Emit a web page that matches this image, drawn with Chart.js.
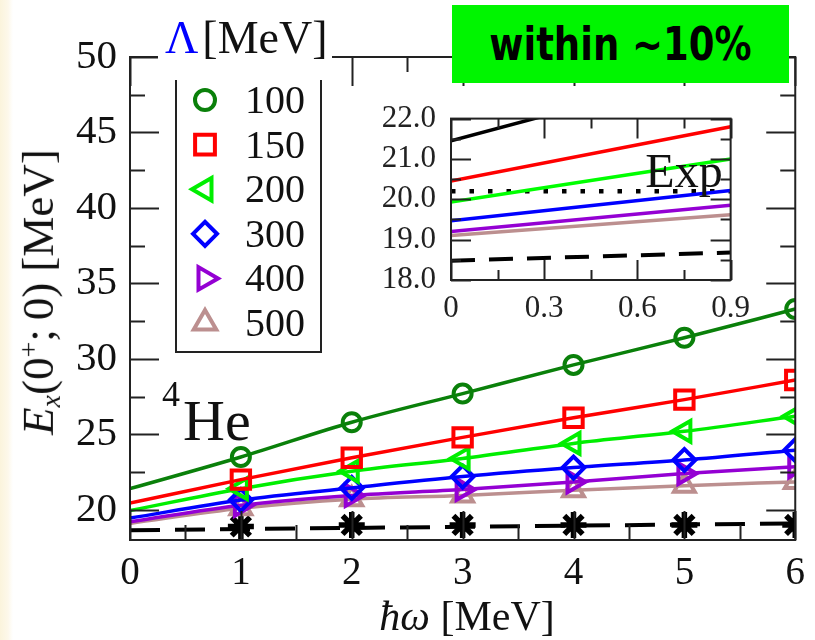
<!DOCTYPE html>
<html><head><meta charset="utf-8">
<script src="https://cdn.jsdelivr.net/npm/chart.js@4.4.1/dist/chart.umd.min.js"></script>
<style>
html,body{margin:0;padding:0;background:#fff;}
#wrap{position:relative;width:815px;height:640px;overflow:hidden;background:linear-gradient(to right,#fbf4dc 0px,#fdf8ea 8px,#ffffff 13px);}
canvas{position:absolute;}
.ov{position:absolute;font-family:'Liberation Serif','Times New Roman',serif;color:#111;white-space:nowrap;line-height:1;}
#ytitle{left:40px;top:292px;font-size:45px;transform:translate(-50%,-50%) rotate(-90deg);}
#xtitle{left:467px;top:616px;font-size:42px;transform:translate(-50%,-50%);}
#box{position:absolute;left:452px;top:5px;width:337px;height:78px;background:#00f500;display:flex;align-items:center;justify-content:center;font-family:'DejaVu Sans',sans-serif;font-size:37px;font-weight:bold;color:#000;}
#box span{display:inline-block;transform:scale(1,1.25);}
</style></head><body>
<div id="wrap">
<canvas id="main" width="815" height="640" style="left:0;top:0"></canvas>
<canvas id="inset" width="400" height="245" style="left:360px;top:85px"></canvas>
<div class="ov" id="ytitle"><i>E</i><sub style="font-size:0.62em;vertical-align:-0.25em"><i>x</i></sub>(0<sup style="font-size:0.62em;vertical-align:0.55em">+</sup>;&#8201;0) [MeV]</div>
<div class="ov" id="xtitle"><i>ħω</i> [MeV]</div>
<div class="ov" style="left:162px;top:376px;font-size:36px;">4</div>
<div class="ov" style="left:183px;top:392px;font-size:58px;">He</div>
<div id="box"><span>within ~10%</span></div>
</div>
<script>
// ---- main panel data ----
const hw = [0, 1, 2, 3, 4, 5, 6];
const lambdas = ['100', '150', '200', '300', '400', '500'];
const e100 = [21.4, 23.5, 25.8, 27.7, 29.6, 31.4, 33.3];
const e150 = [20.45, 22.0, 23.45, 24.8, 26.1, 27.3, 28.6];
const e200 = [19.95, 21.4, 22.55, 23.4, 24.4, 25.2, 26.2];
const e300 = [19.45, 20.65, 21.45, 22.2, 22.8, 23.3, 23.95];
const e400 = [19.2, 20.3, 20.95, 21.35, 21.85, 22.4, 22.85];
const e500 = [19.1, 20.1, 20.7, 20.95, 21.3, 21.6, 21.85];
const starX = [1, 2, 3, 4, 5, 6];
const starY = [18.9, 19.0, 19.0, 19.0, 19.0, 19.0];
const dashX = [0, 6];
const dashY = [18.65, 19.1];
const xTicks = [0, 1, 2, 3, 4, 5, 6];
const xMinor = [0.5, 1.5, 2.5, 3.5, 4.5, 5.5];
const yTicks = [20, 25, 30, 35, 40, 45, 50];
const yMinor = [22.5, 27.5, 32.5, 37.5, 42.5, 47.5];
// ---- inset data ----
const insetX = [0, 0.9];
const in100 = [21.45, 23.3];
const in150 = [20.45, 21.8];
const in200 = [19.93, 21.0];
const in300 = [19.47, 20.22];
const in400 = [19.2, 19.85];
const in500 = [19.1, 19.62];
const inExp = [20.2, 20.2];
const inDash = [18.48, 18.68];
const insetXTicks = [0, 0.3, 0.6, 0.9];
const insetXLabels = ['0', '0.3', '0.6', '0.9'];
const insetXMinor = [0.15, 0.45, 0.75];
const insetYTicks = [18, 19, 20, 21, 22];
const insetYLabels = ['18.0', '19.0', '20.0', '21.0', '22.0'];
const insetYMinor = [18.5, 19.5, 20.5, 21.5];

const SERIF = "'Liberation Serif','Times New Roman',serif";
const colors = ['#0a800a', '#ff0000', '#00ee00', '#0000ff', '#9400d3', '#bc8f8f'];
const insetColors = ['#000000', '#ff0000', '#00ff00', '#0000ff', '#9400d3', '#bc8f8f'];
const styles = ['circle', 'rect', 'triangle', 'rectRot', 'triangle', 'triangle'];
const rots = [0, 0, -90, 0, 90, 0];
const radii = [9, 13, 12, 11, 12, 12];
const mainSeries = [e100, e150, e200, e300, e400, e500];
const insetSeries = [in100, in150, in200, in300, in400, in500];

const toXY = (xs, ys) => xs.map((x, i) => ({x: x, y: ys[i]}));

const framePlugin = {
  id: 'frame',
  afterDatasetsDraw(chart, args, o) {
    const ctx = chart.ctx, a = chart.chartArea, xs = chart.scales.x, ys = chart.scales.y;
    ctx.save();
    ctx.strokeStyle = '#222';
    ctx.lineWidth = o.lw;
    ctx.beginPath();
    const vx = (vals, len) => vals.forEach(v => {
      const p = Math.round(xs.getPixelForValue(v)) + 0.5;
      ctx.moveTo(p, a.bottom); ctx.lineTo(p, a.bottom - len);
      ctx.moveTo(p, a.top); ctx.lineTo(p, a.top + len);
    });
    const hy = (vals, len) => vals.forEach(v => {
      const p = Math.round(ys.getPixelForValue(v)) + 0.5;
      ctx.moveTo(a.left, p); ctx.lineTo(a.left + len, p);
      ctx.moveTo(a.right, p); ctx.lineTo(a.right - len, p);
    });
    vx(o.xMajor, o.major); vx(o.xMinor, o.minor);
    hy(o.yMajor, o.major); hy(o.yMinor, o.minor);
    ctx.stroke();
    ctx.lineWidth = o.lw;
    ctx.strokeRect(a.left, a.top, a.right - a.left, a.bottom - a.top);
    ctx.restore();
  }
};

const legendPlugin = {
  id: 'lgd',
  afterDraw(chart, args, o) {
    if (!o.on) return;
    const ctx = chart.ctx;
    ctx.save();
    ctx.fillStyle = '#fff';
    ctx.fillRect(175, 55, 146, 297);
    ctx.fillRect(158, 45, 174, 24);
    ctx.strokeStyle = '#222';
    ctx.lineWidth = 2;
    ctx.beginPath();
    ctx.moveTo(176, 80); ctx.lineTo(176, 352); ctx.lineTo(321, 352); ctx.lineTo(321, 80);
    ctx.stroke();
    // title
    ctx.font = '46px ' + SERIF;
    ctx.textBaseline = 'alphabetic';
    ctx.fillStyle = '#0000ff';
    ctx.fillText('Λ', 165, 53);
    const w = ctx.measureText('Λ').width;
    ctx.fillStyle = '#111';
    ctx.fillText('[MeV]', 165 + w + 4, 53);
    // entries
    ctx.font = '40px ' + SERIF;
    lambdas.forEach((lab, i) => {
      const cy = 100 + 44.6 * i;
      ctx.strokeStyle = colors[i];
      ctx.fillStyle = 'rgba(0,0,0,0)';
      ctx.lineWidth = 4;
      Chart.helpers.drawPoint(ctx, {pointStyle: styles[i], rotation: rots[i], radius: radii[i] + 1, borderWidth: 4}, 205, cy);
      ctx.fillStyle = '#111';
      ctx.fillText(lab, 245, cy + 13);
    });
    ctx.restore();
  }
};

const expPlugin = {
  id: 'explabel',
  afterDraw(chart, args, o) {
    if (!o.on) return;
    const ctx = chart.ctx, a = chart.chartArea, ys = chart.scales.y;
    ctx.save();
    ctx.font = '48px ' + SERIF;
    ctx.fillStyle = '#111';
    ctx.textAlign = 'right';
    ctx.textBaseline = 'alphabetic';
    ctx.fillText('Exp', a.right - 8, ys.getPixelForValue(inExp[0]) - 4);
    ctx.restore();
  }
};

// ---------- main chart ----------
const mainDatasets = mainSeries.map((vals, i) => ({
  label: lambdas[i],
  data: toXY(hw, vals),
  borderColor: colors[i],
  backgroundColor: 'rgba(0,0,0,0)',
  borderWidth: 3.5,
  pointStyle: styles[i],
  pointRotation: rots[i],
  pointRadius: c => (c.raw && c.raw.x === 0) ? 0 : radii[i],
  pointBorderWidth: 4,
  pointBorderColor: colors[i],
  pointBackgroundColor: 'rgba(0,0,0,0)',
  cubicInterpolationMode: 'monotone',
  fill: false
}));
mainDatasets.push({
  label: 'dash',
  data: toXY(dashX, dashY),
  borderColor: '#000',
  borderWidth: 4,
  borderDash: [30, 15],
  pointRadius: 0,
  fill: false
});
mainDatasets.push({
  label: 'star',
  data: toXY(starX, starY),
  showLine: false,
  pointStyle: 'star',
  pointRadius: 13,
  pointBorderWidth: 5.5,
  pointBorderColor: '#000',
  borderColor: '#000'
});

new Chart(document.getElementById('main'), {
  type: 'line',
  data: {datasets: mainDatasets},
  options: {
    responsive: false, animation: false, events: [], devicePixelRatio: 1,
    layout: {padding: {top: 57, right: 10, left: 0, bottom: 0}},
    plugins: {
      legend: {display: false}, tooltip: {enabled: false},
      frame: {lw: 2, major: 29, minor: 15, xMajor: xTicks, xMinor: xMinor, yMajor: yTicks, yMinor: yMinor},
      lgd: {on: true}
    },
    scales: {
      x: {
        type: 'linear', min: 0, max: 6,
        afterBuildTicks: s => { s.ticks = xTicks.map(v => ({value: v})); },
        afterFit: s => { s.height = 100; },
        grid: {display: false, drawTicks: false},
        border: {display: false},
        ticks: {font: {family: SERIF, size: 39}, color: '#111', padding: 10, maxRotation: 0, autoSkip: false, callback: v => String(v)}
      },
      y: {
        type: 'linear', min: 18, max: 50,
        afterBuildTicks: s => { s.ticks = yTicks.map(v => ({value: v})); },
        afterFit: s => { s.width = 130; },
        grid: {display: false, drawTicks: false},
        border: {display: false},
        ticks: {font: {family: SERIF, size: 41}, color: '#111', padding: 13, autoSkip: false, callback: v => String(v)}
      }
    }
  },
  plugins: [framePlugin, legendPlugin]
});

// ---------- inset chart ----------
const insetDatasets = insetSeries.map((vals, i) => ({
  label: lambdas[i],
  data: toXY(insetX, vals),
  borderColor: insetColors[i],
  borderWidth: 3.5,
  pointRadius: 0,
  fill: false
}));
insetDatasets.push({
  label: 'Exp', data: toXY(insetX, inExp),
  borderColor: '#000', borderWidth: 4.5, borderDash: [4.5, 14], pointRadius: 0, fill: false
});
insetDatasets.push({
  label: 'dash', data: toXY(insetX, inDash),
  borderColor: '#000', borderWidth: 4, borderDash: [24, 14], pointRadius: 0, fill: false
});

new Chart(document.getElementById('inset'), {
  type: 'line',
  data: {datasets: insetDatasets},
  options: {
    responsive: false, animation: false, events: [], devicePixelRatio: 1,
    layout: {padding: {top: 13, right: 19, left: 0, bottom: 0}},
    plugins: {
      legend: {display: false}, tooltip: {enabled: false},
      frame: {lw: 2, major: 20, minor: 10, xMajor: insetXTicks, xMinor: insetXMinor, yMajor: insetYTicks, yMinor: insetYMinor},
      explabel: {on: true}
    },
    scales: {
      x: {
        type: 'linear', min: 0, max: 0.9,
        afterBuildTicks: s => { s.ticks = insetXTicks.map(v => ({value: v})); },
        afterFit: s => { s.height = 50; },
        grid: {display: false, drawTicks: false},
        border: {display: false},
        ticks: {font: {family: SERIF, size: 31}, color: '#222', padding: 10, maxRotation: 0, autoSkip: false, callback: (v, i) => insetXLabels[i]}
      },
      y: {
        type: 'linear', min: 18, max: 22,
        afterBuildTicks: s => { s.ticks = insetYTicks.map(v => ({value: v})); },
        afterFit: s => { s.width = 91; },
        grid: {display: false, drawTicks: false},
        border: {display: false},
        ticks: {font: {family: SERIF, size: 31}, color: '#222', padding: 15, autoSkip: false, callback: (v, i) => insetYLabels[i]}
      }
    }
  },
  plugins: [framePlugin, expPlugin]
});
</script>
</body></html>
